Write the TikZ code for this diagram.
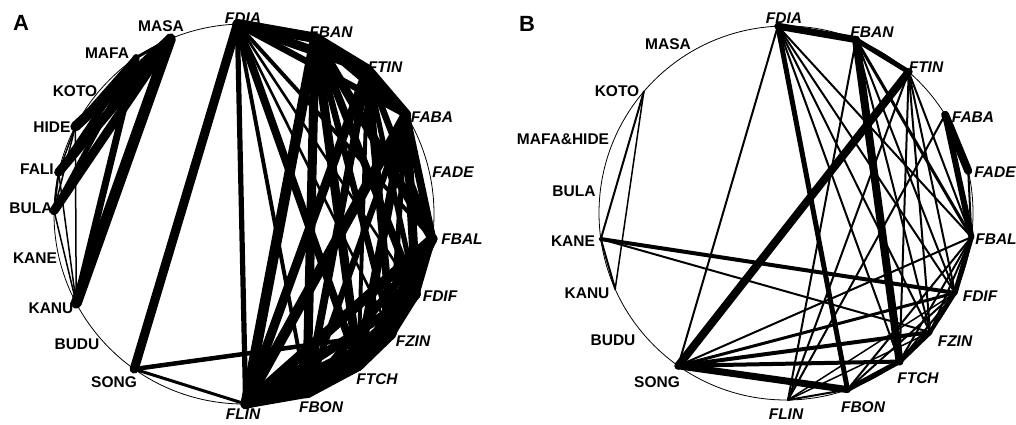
\documentclass[tikz,border=0pt]{standalone}
\usepackage{fontspec}
\setmainfont{Liberation Sans}
\usetikzlibrary{calc}
\begin{document}
\begin{tikzpicture}[x=1pt,y=-1pt,
  lab/.style={font=\fontsize{15.5}{15.5}\selectfont\bfseries, inner sep=0pt},
  flab/.style={font=\fontsize{15.5}{15.5}\selectfont\bfseries\itshape, inner sep=0pt},
  edge/.style={line cap=round, draw=black},
  rim/.style={draw=black, line width=0.8pt},
  panel/.style={font=\fontsize{22}{22}\selectfont\bfseries, inner sep=0pt}]
\useasboundingbox (0,0) rectangle (1016,424);
\coordinate (cA) at (244,214);
\coordinate (cB) at (786,213);
\draw[rim] (cA) circle (190pt);
\draw[rim] (cB) circle (187pt);
% node positions, panel A
\foreach \n/\a in {FDIA/92,FBAN/68,FTIN/49.5,FABA/31.5,FADE/13.3,FBAL/-7.5,FDIF/-25,FZIN/-39,FTCH/-53,FBON/-70.7,FLIN/-89.5,SONG/234.7,BUDU/221,KANU/208,KANE/192.8,BULA/179,FALI/167.3,HIDE/152.6,KOTO/139.8,MAFA/124.6,MASA/112.8}
  \coordinate (a\n) at ($(cA)+(\a:190pt)$);
% node positions, panel B
\foreach \n/\a in {FDIA/92.5,FBAN/68,FTIN/49,FABA/31.7,FADE/13,FBAL/-7.4,FDIF/-25.3,FZIN/-39.6,FTCH/-52.6,FBON/-70.8,FLIN/-89.4,SONG/234.8,BUDU/220,KANU/204,KANE/188,BULA/172.6,MAFAHIDE/156.5,KOTO/139.5,MASA/118}
  \coordinate (b\n) at ($(cB)+(\a:187pt)$);
% edges, panel A (left group)
\foreach \u/\v/\w in {
  MASA/MAFA/3, MASA/HIDE/10, MASA/FALI/9, MASA/BULA/9, MASA/KANU/11,
  MAFA/HIDE/6, MAFA/FALI/6, MAFA/BULA/5, MAFA/KANU/7,
  HIDE/KANU/1.5, FALI/KANU/1.5, HIDE/FALI/1.5, BULA/KANU/1.5, HIDE/BULA/1.5, FALI/BULA/2,
  SONG/FDIA/9, SONG/FZIN/4.5, SONG/FLIN/3}
  \draw[edge, line width=\w pt] (a\u) -- (a\v);
% edges, panel A (F group)
\foreach \u/\v/\w in {
  FDIA/FBAN/8, FDIA/FTIN/7, FDIA/FABA/5, FDIA/FBAL/3, FDIA/FDIF/2, FDIA/FZIN/2,
  FDIA/FTCH/6, FDIA/FBON/3, FDIA/FLIN/4,
  FBAN/FTIN/8, FBAN/FABA/6, FBAN/FBAL/7, FBAN/FDIF/6, FBAN/FZIN/5, FBAN/FTCH/7,
  FBAN/FBON/7, FBAN/FLIN/8,
  FTIN/FABA/8, FTIN/FBAL/5, FTIN/FDIF/4, FTIN/FZIN/6, FTIN/FTCH/3, FTIN/FBON/6, FTIN/FLIN/7,
  FABA/FBAL/6, FABA/FDIF/7, FABA/FZIN/4, FABA/FTCH/7, FABA/FBON/5, FABA/FLIN/8,
  FBAL/FDIF/5, FBAL/FZIN/7, FBAL/FTCH/8, FBAL/FBON/6, FBAL/FLIN/8,
  FDIF/FZIN/6, FDIF/FTCH/7, FDIF/FBON/5, FDIF/FLIN/7,
  FZIN/FTCH/8, FZIN/FBON/6, FZIN/FLIN/7,
  FTCH/FBON/8, FTCH/FLIN/8, FBON/FLIN/7}
  \draw[edge, line width=1.3*\w pt] (a\u) -- (a\v);
% edges, panel B
\foreach \u/\v/\w in {
  KOTO/KANE/2, KOTO/KANU/1.5, KANE/KANU/2, KANE/FDIF/4, KANE/FZIN/2,
  FDIA/FBAN/7, FDIA/FBAL/2, FDIA/FDIF/2, FDIA/FZIN/2, FDIA/FTCH/2, FDIA/FBON/5, FDIA/SONG/2,
  FBAN/FTIN/5, FBAN/FTCH/8, FBAN/FBAL/3, FBAN/FDIF/2, FBAN/FZIN/2, FBAN/FLIN/2,
  FTIN/SONG/8, FTIN/FBAL/2, FTIN/FDIF/2, FTIN/FZIN/2, FTIN/FTCH/2, FTIN/FLIN/2,
  FABA/FADE/8, FABA/FBAL/6, FABA/FLIN/2, FADE/FBAL/2,
  FBAL/FDIF/5, FBAL/FZIN/2, FBAL/FTCH/2, FBAL/FBON/2,
  FDIF/FZIN/4, FDIF/FTCH/2, FDIF/FBON/2,
  FZIN/FTCH/5, FTCH/FBON/5, FBON/FLIN/2, FLIN/FZIN/1.5, FLIN/FDIF/1.5,
  SONG/FBON/7, SONG/FTCH/4, SONG/FZIN/4, SONG/FDIF/3, SONG/FBAL/2}
  \draw[edge, line width=\w pt] (b\u) -- (b\v);
% panel letters
\node[panel] (pA) at (21,23) {A};
\node[panel] (pB) at (527,24) {B};
% labels, panel A
\node[lab]  (LaMASA) at (161,26) {MASA};
\node[lab]  (LaMAFA) at (107,53) {MAFA};
\node[lab]  (LaKOTO) at (75,91) {KOTO};
\node[lab]  (LaHIDE) at (52,127) {HIDE};
\node[lab]  (LaFALI) at (37,169) {FALI};
\node[lab]  (LaBULA) at (31,208) {BULA};
\node[lab]  (LaKANE) at (35,258) {KANE};
\node[lab]  (LaKANU) at (51,308) {KANU};
\node[lab]  (LaBUDU) at (77,344) {BUDU};
\node[lab]  (LaSONG) at (114,382) {SONG};
\node[flab] (LaFLIN) at (243,414) {FLIN};
\node[flab] (LaFBON) at (321,407) {FBON};
\node[flab] (LaFTCH) at (377,379) {FTCH};
\node[flab] (LaFZIN) at (413,341) {FZIN};
\node[flab] (LaFDIF) at (440,296) {FDIF};
\node[flab] (LaFBAL) at (462,239) {FBAL};
\node[flab] (LaFADE) at (453,172) {FADE};
\node[flab] (LaFABA) at (432,117) {FABA};
\node[flab] (LaFTIN) at (385,67) {FTIN};
\node[flab] (LaFBAN) at (331,32) {FBAN};
\node[flab] (LaFDIA) at (243,18) {FDIA};
% labels, panel B
\node[lab]  (LbMASA) at (668,44) {MASA};
\node[lab]  (LbKOTO) at (617,91) {KOTO};
\node[lab]  (LbMAFAHIDE) at (563,139) {MAFA\&HIDE};
\node[lab]  (LbBULA) at (574,191) {BULA};
\node[lab]  (LbKANE) at (573,241) {KANE};
\node[lab]  (LbKANU) at (587,293) {KANU};
\node[lab]  (LbBUDU) at (613,340) {BUDU};
\node[lab]  (LbSONG) at (657,382) {SONG};
\node[flab] (LbFLIN) at (786,414) {FLIN};
\node[flab] (LbFBON) at (863,407) {FBON};
\node[flab] (LbFTCH) at (918,378) {FTCH};
\node[flab] (LbFZIN) at (955,341) {FZIN};
\node[flab] (LbFDIF) at (980,296) {FDIF};
\node[flab] (LbFBAL) at (996,239) {FBAL};
\node[flab] (LbFADE) at (995,172) {FADE};
\node[flab] (LbFABA) at (973,117) {FABA};
\node[flab] (LbFTIN) at (926,67) {FTIN};
\node[flab] (LbFBAN) at (872,32) {FBAN};
\node[flab] (LbFDIA) at (784,18) {FDIA};
\end{tikzpicture}
\end{document}
